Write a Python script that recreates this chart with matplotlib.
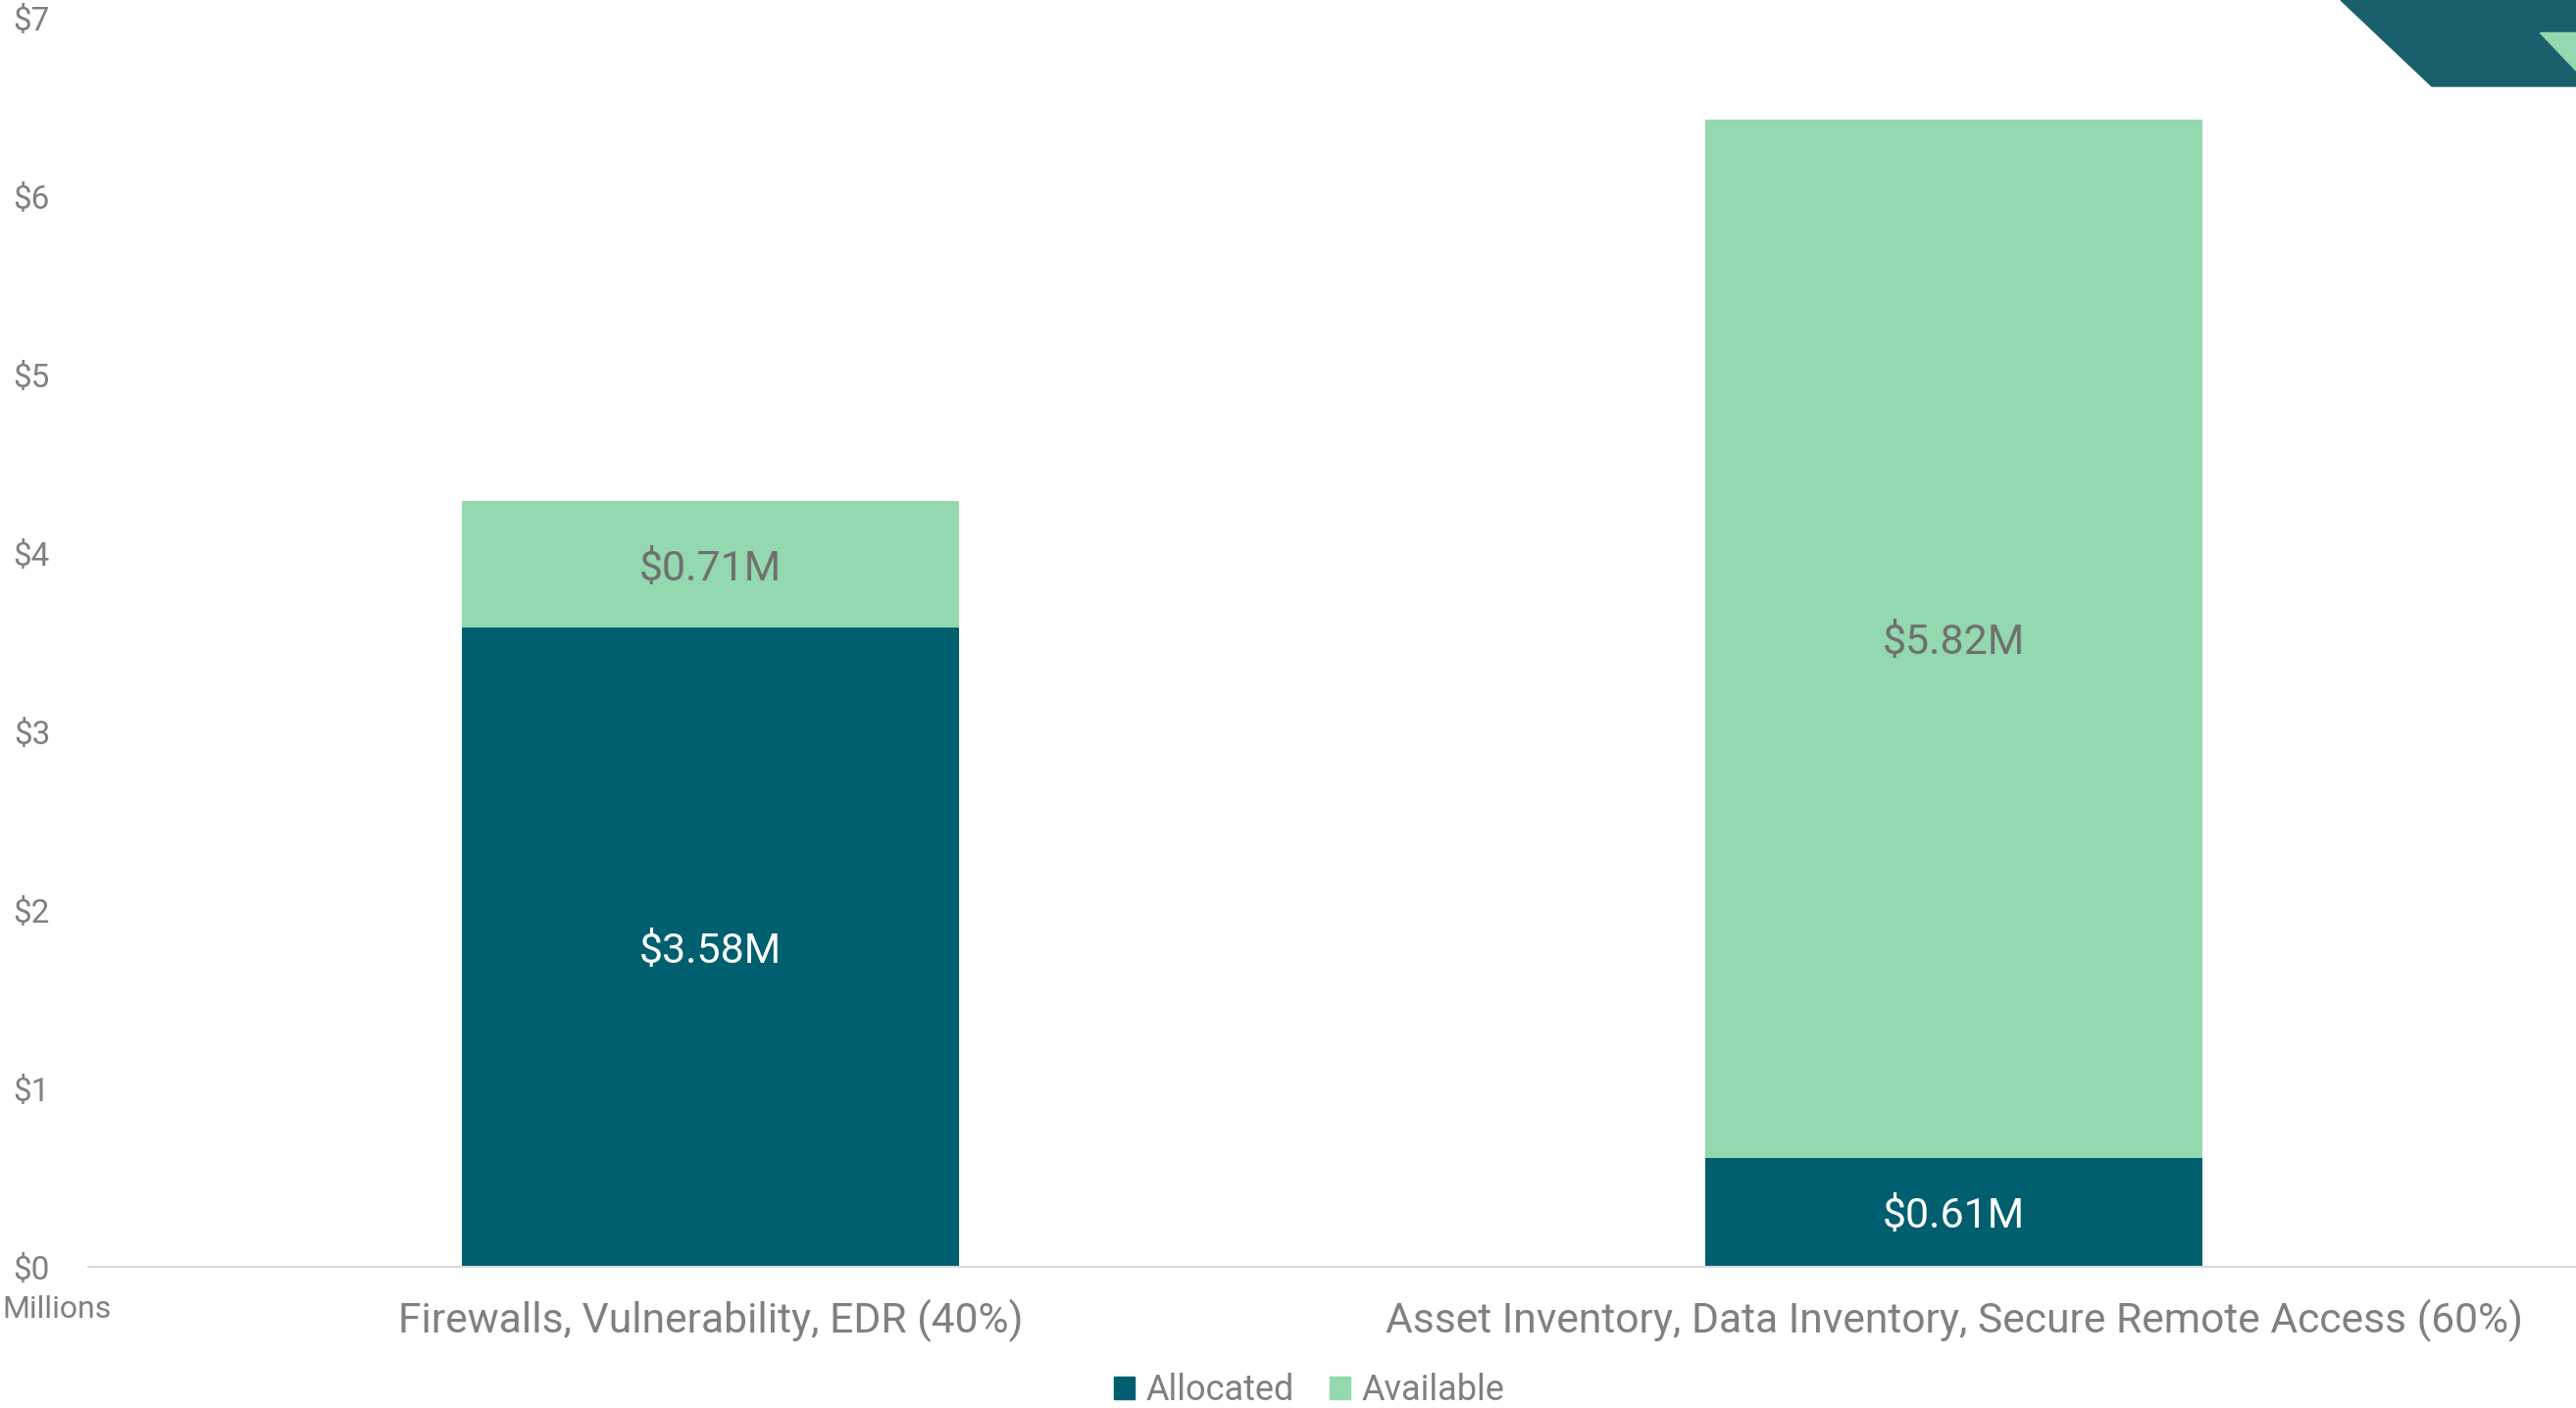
import matplotlib.pyplot as plt
from matplotlib.patches import Polygon, Patch

plt.rcParams['font.family'] = ['Roboto', 'DejaVu Sans']

# Data (millions of dollars)
categories = ["Firewalls, Vulnerability, EDR (40%)",
              "Asset Inventory, Data Inventory, Secure Remote Access (60%)"]
allocated = [3.58, 0.61]
available = [0.71, 5.82]
yticks = [0, 1, 2, 3, 4, 5, 6, 7]

dark = '#005f6e'
light = '#93d8ae'
grey = '#808080'

W, H = 2627, 1436
fig = plt.figure(figsize=(W / 100, H / 100), dpi=100)
ax = fig.add_axes([90 / W, 1 - 1292 / H, 1 - 90 / W, (1292 - 18) / H])

x = list(range(len(categories)))
ax.bar(x, allocated, width=0.4, color=dark, label='Allocated')
ax.bar(x, available, width=0.4, bottom=allocated, color=light, label='Available')

# Segment labels
for i in x:
    ax.text(i, allocated[i] / 2, f"${allocated[i]:.2f}M", ha='center', va='center_baseline',
            color='white', fontsize=31)
    ax.text(i, allocated[i] + available[i] / 2, f"${available[i]:.2f}M", ha='center',
            va='center_baseline', color='#707070', fontsize=31)

ax.set_xlim(-0.5, 1.5)
ax.set_ylim(0, 7)
ax.set_yticks(yticks)
ax.set_yticklabels([f"${v}" for v in yticks])
ax.set_xticks(x)
ax.set_xticklabels(categories)
ax.tick_params(axis='y', length=0, pad=28, labelsize=24, labelcolor=grey)
ax.tick_params(axis='x', length=0, pad=24, labelsize=30.7, labelcolor=grey)
for s in ['top', 'right', 'left']:
    ax.spines[s].set_visible(False)
ax.spines['bottom'].set_color('#d9d9d9')
ax.spines['bottom'].set_linewidth(1.5)

fig.text(2 / W, 1 - 1335 / H, "Millions", ha='left', va='center', color=grey, fontsize=23)

handles = [Patch(color=dark, label='Allocated'), Patch(color=light, label='Available')]
fig.legend(handles=handles, loc='center', bbox_to_anchor=(1335 / W, 1 - 1418 / H), ncol=2,
           frameon=False, fontsize=26, labelcolor=grey, handlelength=0.6, handleheight=0.6,
           handletextpad=0.3, columnspacing=1.0)

# Corner decoration
def fpt(px, py):
    return (px / W, 1 - py / H)

fig.patches.append(Polygon([fpt(2387, 0), fpt(2480, 88), fpt(2627, 88), fpt(2627, 0)],
                           closed=True, transform=fig.transFigure, color='#1a5f6c', zorder=5))
fig.patches.append(Polygon([fpt(2590, 33), fpt(2627, 33), fpt(2627, 72)],
                           closed=True, transform=fig.transFigure, color=light, zorder=6))

fig.savefig('out.png', dpi=100)
